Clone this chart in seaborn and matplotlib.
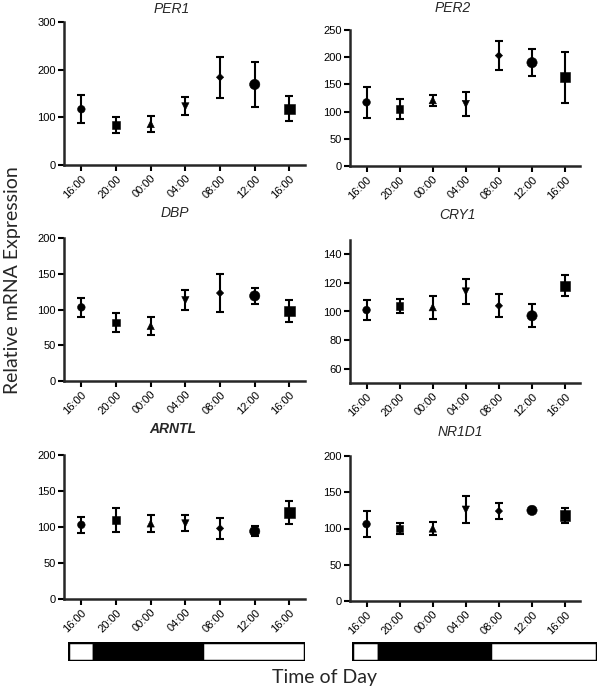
import numpy as np
import pandas as pd
import matplotlib
matplotlib.use("Agg")
import matplotlib.pyplot as plt
import seaborn as sns

# time points (7 sampling slots, 16:00 repeated at the end)
time_labels = ["16:00", "20:00", "00:00", "04:00", "08:00", "12:00", "16:00"]
slot = [0, 1, 2, 3, 4, 5, 6]

# means and error values
per1_mean = [117, 84, 86, 123, 184, 169, 118]
per1_err = [29, 17, 17, 19, 43, 47, 26]
per2_mean = [117, 105, 121, 114, 203, 190, 163]
per2_err = [28, 18, 10, 22, 26, 25, 47]
dbp_mean = [103, 82, 77, 113, 123, 119, 98]
dbp_err = [13, 13, 13, 14, 26, 11, 15]
cry1_mean = [101, 104, 103, 114, 104, 97, 118]
cry1_err = [7, 5, 8, 9, 8, 8, 7.5]
arntl_mean = [103, 110, 105, 105, 98, 94, 120]
arntl_err = [11, 17, 12, 11, 14, 7, 16]
nr1d1_mean = [106, 100, 100, 126, 124, 125, 118]
nr1d1_err = [18, 8, 8.5, 19, 11, 2, 10]

# light/dark bar, fraction of bar width
ld_edges = [0.0, 0.11, 0.565, 1.0]
ld_colors = ["white", "black", "white"]

sns.set_style("ticks")
plt.rcParams["font.family"] = ["Liberation Sans", "DejaVu Sans"]

fig = plt.figure(figsize=(6, 6.89), dpi=100)
W, H = 600, 689

def px_axes(x0, x1, y_top, y_bot):
    return fig.add_axes([x0 / W, 1 - y_bot / H, (x1 - x0) / W, (y_bot - y_top) / H])

panels = [
    ("PER1", per1_mean, per1_err, (0, 300), [0, 100, 200, 300], (64, 305, 22, 165), (172, 9), False),
    ("PER2", per2_mean, per2_err, (0, 250), [0, 50, 100, 150, 200, 250], (350, 580, 30, 166), (453, 8), False),
    ("DBP", dbp_mean, dbp_err, (0, 200), [0, 50, 100, 150, 200], (64, 305, 238, 381), (175, 213), False),
    ("CRY1", cry1_mean, cry1_err, (50, 150), [60, 80, 100, 120, 140], (350, 580, 240, 383), (457, 215), False),
    ("ARNTL", arntl_mean, arntl_err, (0, 200), [0, 50, 100, 150, 200], (64, 305, 455, 599), (173, 429), True),
    ("NR1D1", nr1d1_mean, nr1d1_err, (0, 200), [0, 50, 100, 150, 200], (350, 580, 456, 601), (460, 432), False),
]

marker_map = {0: "o", 1: "s", 2: "^", 3: "v", 4: "D", 5: "o", 6: "s"}
size_map = {0: 30, 1: 30, 2: 28, 3: 28, 4: 14, 5: 55, 6: 55}

for name, mean, err, ylim, yticks, box, tpos, bold in panels:
    ax = px_axes(*box)
    df = pd.DataFrame({"slot": slot, "mean": mean, "err": err})
    ax.errorbar(df["slot"], df["mean"], yerr=df["err"], fmt="none", ecolor="black",
                elinewidth=1.5, capsize=3, capthick=1.5, zorder=2)
    sns.scatterplot(data=df, x="slot", y="mean", style="slot", markers=marker_map,
                    size="slot", sizes=size_map, color="black", edgecolor="black",
                    legend=False, ax=ax, zorder=3)
    ax.set_xlim(-0.5, 6.45)
    ax.set_ylim(*ylim)
    ax.set_yticks(yticks)
    ax.set_xticks(slot)
    ax.set_xticklabels(time_labels, rotation=45, ha="right", rotation_mode="anchor")
    ax.set_xlabel("")
    ax.set_ylabel("")
    sns.despine(ax=ax)
    for s in ["left", "bottom"]:
        ax.spines[s].set_linewidth(1.8)
    ax.tick_params(axis="both", length=4, width=1.5, labelsize=8, pad=2, colors="black")
    fig.text(tpos[0] / W, 1 - tpos[1] / H, name, ha="center", va="center", fontsize=10,
             style="italic", fontweight="bold" if bold else "normal")

# light/dark bars
for x0, x1 in [(68, 305), (352, 597)]:
    bax = px_axes(x0, x1, 642, 661)
    for i, c in enumerate(ld_colors):
        bax.barh(0, ld_edges[i + 1] - ld_edges[i], left=ld_edges[i], height=1,
                 color=c, edgecolor="black", linewidth=2.5)
    bax.set_xlim(0, 1)
    bax.set_ylim(-0.5, 0.5)
    bax.axis("off")

fig.text(13 / W, 1 - 280 / H, "Relative mRNA Expression", rotation=90, ha="center",
         va="center", fontsize=14, family=["Lato", "DejaVu Sans"])
fig.text(324 / W, 1 - 677 / H, "Time of Day", ha="center", va="center",
         fontsize=14, family=["Lato", "DejaVu Sans"])

fig.savefig("out.png", dpi=100)
